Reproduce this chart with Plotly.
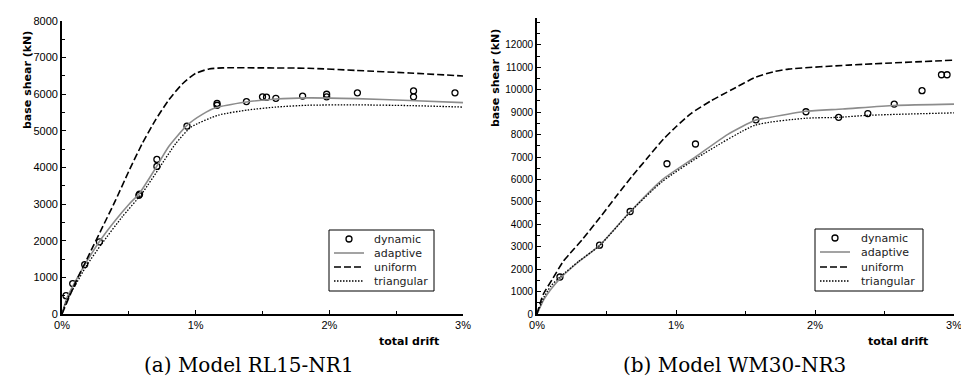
import plotly.graph_objects as go

# ---------------- data (drift in %, base shear in kN) ----------------
# Model RL15-NR1
a_dyn_x = [0.03, 0.08, 0.17, 0.28, 0.575, 0.58, 0.71, 0.71, 0.935, 1.16, 1.16,
           1.38, 1.50, 1.53, 1.60, 1.80, 1.98, 1.98, 2.21, 2.63, 2.63, 2.94]
a_dyn_y = [500, 830, 1350, 1970, 3240, 3270, 4220, 4030, 5130, 5750, 5700,
           5800, 5930, 5920, 5890, 5950, 6000, 5930, 6040, 6090, 5930, 6040]
a_adp_x = [0, 0.04, 0.09, 0.17, 0.28, 0.40, 0.50, 0.58, 0.70, 0.80, 0.935, 1.05,
           1.15, 1.38, 1.60, 1.84, 2.20, 2.60, 3.00]
a_adp_y = [0, 470, 820, 1340, 1980, 2560, 2990, 3300, 3980, 4580, 5150, 5450,
           5630, 5790, 5870, 5900, 5880, 5830, 5770]
a_uni_x = [0, 0.10, 0.20, 0.30, 0.40, 0.50, 0.60, 0.70, 0.80, 0.90, 1.00, 1.10,
           1.20, 1.50, 1.84, 2.20, 2.60, 3.00]
a_uni_y = [0, 850, 1600, 2350, 3100, 3900, 4650, 5300, 5850, 6280, 6570, 6690,
           6720, 6720, 6710, 6650, 6580, 6500]
a_tri_x = [0, 0.04, 0.10, 0.18, 0.30, 0.45, 0.60, 0.73, 0.85, 0.965, 1.17, 1.39,
           1.60, 1.84, 2.20, 2.60, 3.00]
a_tri_y = [0, 420, 790, 1300, 1930, 2650, 3300, 4000, 4650, 5100, 5430, 5570,
           5650, 5700, 5710, 5690, 5650]

# Model WM30-NR3
b_dyn_x = [0.165, 0.45, 0.67, 0.935, 1.14, 1.575, 1.935, 2.17, 2.38, 2.57, 2.77, 2.91, 2.95]
b_dyn_y = [1650, 3070, 4570, 6700, 7580, 8660, 9020, 8770, 8940, 9360, 9960, 10670, 10670]
b_adp_x = [0, 0.05, 0.10, 0.165, 0.30, 0.45, 0.67, 0.90, 1.14, 1.37, 1.57, 1.66,
           1.935, 2.20, 2.57, 3.00]
b_adp_y = [0, 650, 1100, 1580, 2330, 3060, 4560, 5980, 7000, 8000, 8640, 8750,
           9040, 9140, 9300, 9360]
b_uni_x = [0, 0.043, 0.115, 0.19, 0.24, 0.33, 0.45, 0.57, 0.69, 0.80, 0.91, 1.00,
           1.11, 1.25, 1.40, 1.57, 1.70, 1.81, 2.24, 3.00]
b_uni_y = [0, 850, 1600, 2360, 2720, 3350, 4280, 5250, 6190, 7000, 7800, 8350,
           8950, 9500, 10000, 10550, 10800, 10920, 11100, 11320]
b_tri_x = [0, 0.05, 0.10, 0.165, 0.30, 0.45, 0.67, 0.90, 1.20, 1.57, 1.935, 2.17,
           2.38, 3.00]
b_tri_y = [0, 750, 1250, 1650, 2350, 3050, 4550, 5900, 7150, 8420, 8730, 8770,
           8860, 8970]

series_names = ["dynamic", "adaptive", "uniform", "triangular"]
x_ticks = [0, 1, 2, 3]
x_tick_labels = ["0%", "1%", "2%", "3%"]
a_y_ticks = list(range(0, 8001, 1000))
b_y_ticks = list(range(0, 12001, 1000))
captions = ["(a) Model RL15-NR1", "(b) Model WM30-NR3"]

W, H = 969, 383
GRAY = "#8c8c8c"
UNI_DASH = "7px,3px"
TRI_DASH = "1.5px,1.5px"

fig = go.Figure()

def add_set(dx, dy, ax, ay, ux, uy, tx, ty, xa, ya):
    fig.add_trace(go.Scatter(x=dx, y=dy, mode="markers", name=series_names[0],
                             xaxis=xa, yaxis=ya, showlegend=False,
                             marker=dict(symbol="circle-open", size=6, color="black",
                                         line=dict(width=1.3, color="black"))))
    fig.add_trace(go.Scatter(x=ax, y=ay, mode="lines", name=series_names[1],
                             xaxis=xa, yaxis=ya, showlegend=False,
                             line=dict(color=GRAY, width=1.6, shape="spline", smoothing=0.6)))
    fig.add_trace(go.Scatter(x=ux, y=uy, mode="lines", name=series_names[2],
                             xaxis=xa, yaxis=ya, showlegend=False,
                             line=dict(color="black", width=1.6, dash=UNI_DASH,
                                       shape="spline", smoothing=0.6)))
    fig.add_trace(go.Scatter(x=tx, y=ty, mode="lines", name=series_names[3],
                             xaxis=xa, yaxis=ya, showlegend=False,
                             line=dict(color="black", width=1.3, dash=TRI_DASH,
                                       shape="spline", smoothing=0.6)))

add_set(a_dyn_x, a_dyn_y, a_adp_x, a_adp_y, a_uni_x, a_uni_y, a_tri_x, a_tri_y, "x", "y")
add_set(b_dyn_x, b_dyn_y, b_adp_x, b_adp_y, b_uni_x, b_uni_y, b_tri_x, b_tri_y, "x2", "y2")

def tfont(size):
    return dict(family="Liberation Sans, Arial, sans-serif", size=size, color="black")

common_x = dict(range=[0, 3], tickvals=x_ticks, ticktext=x_tick_labels, ticks="inside", ticklen=4,
                tickwidth=1.2, tickcolor="black", showline=True, linecolor="black", linewidth=1.8,
                showgrid=False, zeroline=False, tickfont=tfont(11), automargin=False,
                minor=dict(dtick=0.5, ticks="inside", ticklen=3, tickcolor="black", tickwidth=1))
common_y = dict(ticks="inside", ticklen=4, tickwidth=1.2, tickcolor="black", showline=True,
                linecolor="black", linewidth=1.8, showgrid=False, zeroline=False,
                automargin=False, tickformat="d",
                minor=dict(dtick=500, ticks="inside", ticklen=3, tickcolor="black", tickwidth=1))

fig.update_layout(
    width=W, height=H, margin=dict(l=0, r=0, t=0, b=0),
    paper_bgcolor="white", plot_bgcolor="white", showlegend=False,
    xaxis=dict(domain=[54 / W, 455 / W], anchor="y", **common_x),
    yaxis=dict(domain=[1 - 306 / H, 1 - 13 / H], anchor="x", range=[0, 8000],
               tickvals=a_y_ticks, tickfont=tfont(11), **common_y),
    xaxis2=dict(domain=[529 / W, 946 / W], anchor="y2", **common_x),
    yaxis2=dict(domain=[1 - 306 / H, 1 - 10 / H], anchor="x2", range=[0, 13200],
                tickvals=b_y_ticks, tickfont=tfont(10), **common_y),
)

# ---- axis titles ----
title_font = dict(family="DejaVu Sans", size=11, color="black")
ann = [
    dict(text="<b>base shear (kN)</b>", x=19 / W, y=1 - 72 / H, textangle=-90),
    dict(text="<b>base shear (kN)</b>", x=487 / W, y=1 - 70 / H, textangle=-90),
    dict(text="<b>total drift</b>", x=401 / W, y=1 - 333 / H, textangle=0),
    dict(text="<b>total drift</b>", x=890 / W, y=1 - 333 / H, textangle=0),
]
for a in ann:
    fig.add_annotation(xref="paper", yref="paper", showarrow=False, font=title_font,
                       xanchor="center", yanchor="middle", **a)

# ---- captions ----
for txt, cx in zip(captions, [241, 726]):
    fig.add_annotation(text=txt, xref="paper", yref="paper", x=cx / W, y=1 - 357 / H,
                       showarrow=False, xanchor="center", yanchor="middle",
                       font=dict(family="DejaVu Serif", size=20, color="black"))

# ---- legends (drawn as boxes in pixel layout) ----
def px(x):
    return x / W

def py(y):
    return 1 - y / H

def legend_box(x0, y0, x1, y1, rows, s0, s1, tx):
    fig.add_shape(type="rect", xref="paper", yref="paper", x0=px(x0), x1=px(x1),
                  y0=py(y1), y1=py(y0), line=dict(color="black", width=1), fillcolor="white",
                  layer="above")
    mid = (s0 + s1) / 2
    r = 3
    fig.add_shape(type="circle", xref="paper", yref="paper", x0=px(mid - r), x1=px(mid + r),
                  y0=py(rows[0] + r), y1=py(rows[0] - r), line=dict(color="black", width=1.3),
                  layer="above")
    styles = [dict(color=GRAY, width=1.6), dict(color="black", width=1.6, dash=UNI_DASH),
              dict(color="black", width=1.3, dash=TRI_DASH)]
    for ry, st in zip(rows[1:], styles):
        fig.add_shape(type="line", xref="paper", yref="paper", x0=px(s0), x1=px(s1),
                      y0=py(ry), y1=py(ry), line=st, layer="above")
    for ry, name in zip(rows, series_names):
        fig.add_annotation(text=name, xref="paper", yref="paper", x=px(tx), y=py(ry),
                           xanchor="left", yanchor="middle", showarrow=False,
                           font=dict(family="DejaVu Sans", size=11, color="#222"))

legend_box(321, 222, 426, 283, [231, 245, 259, 273], 326, 356, 364)
legend_box(807, 221, 915, 283, [230, 244, 259, 273], 812, 842, 851)

fig.write_html("out.html")
